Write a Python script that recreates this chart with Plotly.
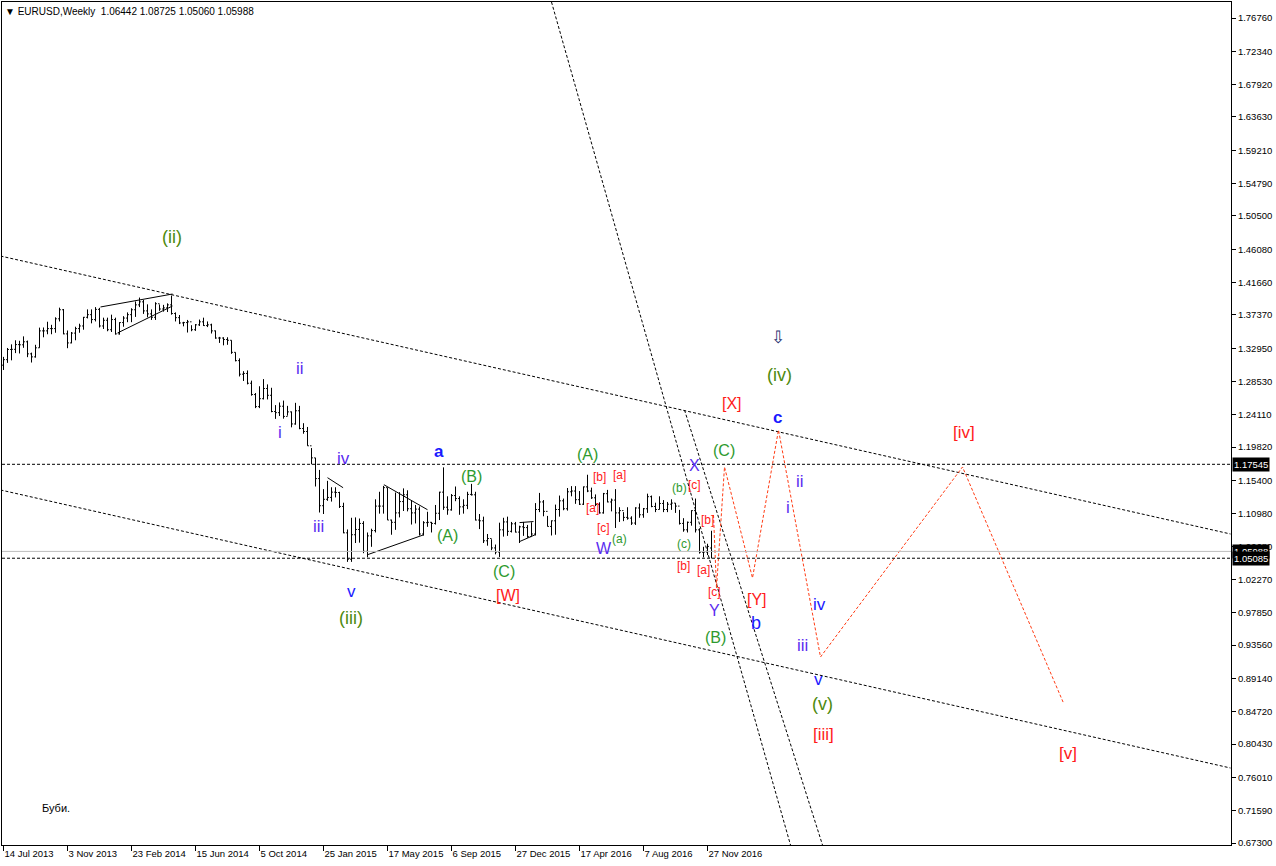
import plotly.graph_objects as go

# ---------------- weekly EURUSD bars (index 0 = week of 14 Jul 2013) ----------------
opens_2013 = [1.3070, 1.3143, 1.3278, 1.3280, 1.3343, 1.3340, 1.3380, 1.3220, 1.3180, 1.3300,
              1.3525, 1.3525, 1.3555, 1.3555, 1.3685, 1.3805, 1.3485, 1.3365, 1.3495, 1.3555,
              1.3590, 1.3705, 1.3740, 1.3675, 1.3810]
highs_2013 = [1.3180, 1.3298, 1.3346, 1.3400, 1.3393, 1.3452, 1.3396, 1.3236, 1.3340, 1.3568,
              1.3570, 1.3646, 1.3605, 1.3705, 1.3833, 1.3815, 1.3530, 1.3510, 1.3580, 1.3620,
              1.3710, 1.3810, 1.3810, 1.3840, 1.3830]
lows_2013 = [1.3006, 1.3100, 1.3134, 1.3230, 1.3225, 1.3300, 1.3176, 1.3105, 1.3170, 1.3300,
             1.3440, 1.3480, 1.3480, 1.3500, 1.3650, 1.3480, 1.3295, 1.3360, 1.3400, 1.3500,
             1.3540, 1.3690, 1.3625, 1.3650, 1.3570]
closes_2013 = [1.3143, 1.3278, 1.3280, 1.3343, 1.3340, 1.3380, 1.3220, 1.3180, 1.3300, 1.3525,
               1.3525, 1.3555, 1.3555, 1.3685, 1.3805, 1.3485, 1.3365, 1.3495, 1.3555, 1.3590,
               1.3705, 1.3740, 1.3675, 1.3810, 1.3590]

opens_2014 = [1.3590, 1.3665, 1.3540, 1.3675, 1.3485, 1.3635, 1.3695, 1.3740, 1.3805, 1.3870,
              1.3910, 1.3790, 1.3750, 1.3705, 1.3885, 1.3815, 1.3830, 1.3870, 1.3755, 1.3700,
              1.3630, 1.3635, 1.3645, 1.3540, 1.3605, 1.3645, 1.3595, 1.3605, 1.3525, 1.3430,
              1.3430, 1.3410, 1.3400, 1.3240, 1.3130, 1.2950, 1.2960, 1.2830, 1.2680, 1.2520,
              1.2625, 1.2760, 1.2670, 1.2455, 1.2440, 1.2525, 1.2390, 1.2450, 1.2290, 1.2465,
              1.2230, 1.2190]
highs_2014 = [1.3700, 1.3700, 1.3740, 1.3700, 1.3640, 1.3720, 1.3770, 1.3825, 1.3915, 1.3967,
              1.3935, 1.3877, 1.3810, 1.3905, 1.3875, 1.3870, 1.3890, 1.3993, 1.3770, 1.3735,
              1.3645, 1.3670, 1.3600, 1.3615, 1.3675, 1.3700, 1.3650, 1.3620, 1.3530, 1.3445,
              1.3440, 1.3440, 1.3400, 1.3240, 1.3160, 1.2990, 1.3000, 1.2865, 1.2700, 1.2790,
              1.2885, 1.2815, 1.2770, 1.2540, 1.2575, 1.2600, 1.2530, 1.2455, 1.2570, 1.2530,
              1.2300, 1.2250]
lows_2014 = [1.3550, 1.3520, 1.3510, 1.3475, 1.3475, 1.3580, 1.3640, 1.3640, 1.3710, 1.3840,
             1.3750, 1.3705, 1.3670, 1.3670, 1.3790, 1.3780, 1.3775, 1.3740, 1.3650, 1.3615,
             1.3585, 1.3503, 1.3520, 1.3525, 1.3590, 1.3590, 1.3575, 1.3490, 1.3420, 1.3365,
             1.3333, 1.3340, 1.3220, 1.3120, 1.2920, 1.2860, 1.2815, 1.2665, 1.2500, 1.2500,
             1.2615, 1.2615, 1.2445, 1.2357, 1.2395, 1.2360, 1.2400, 1.2245, 1.2280, 1.2220,
             1.2160, 1.2000]
closes_2014 = [1.3665, 1.3540, 1.3675, 1.3485, 1.3635, 1.3695, 1.3740, 1.3805, 1.3870, 1.3910,
               1.3790, 1.3750, 1.3705, 1.3885, 1.3815, 1.3830, 1.3870, 1.3755, 1.3700, 1.3630,
               1.3635, 1.3645, 1.3540, 1.3605, 1.3645, 1.3595, 1.3605, 1.3525, 1.3430, 1.3430,
               1.3410, 1.3400, 1.3240, 1.3130, 1.2950, 1.2960, 1.2830, 1.2680, 1.2520, 1.2625,
               1.2760, 1.2670, 1.2455, 1.2440, 1.2525, 1.2390, 1.2450, 1.2290, 1.2465, 1.2230,
               1.2190, 1.2000]

opens_2015 = [1.2000, 1.1840, 1.1565, 1.1205, 1.1290, 1.1315, 1.1385, 1.1380, 1.1195, 1.0845,
              1.0495, 1.0820, 1.0890, 1.0970, 1.0600, 1.0805, 1.0875, 1.1200, 1.1200, 1.1445,
              1.1015, 1.0985, 1.1110, 1.1260, 1.1350, 1.1165, 1.1110, 1.1160, 1.0830, 1.0980,
              1.0985, 1.0970, 1.1105, 1.1385, 1.1185, 1.1150, 1.1340, 1.1300, 1.1190, 1.1210,
              1.1355, 1.1350, 1.1015, 1.1005, 1.0740, 1.0770, 1.0645, 1.0590, 1.0885, 1.0990,
              1.0865, 1.0965]
highs_2015 = [1.1970, 1.1840, 1.1680, 1.1425, 1.1535, 1.1450, 1.1450, 1.1390, 1.1245, 1.0890,
              1.1045, 1.1050, 1.1035, 1.1000, 1.0850, 1.0900, 1.1290, 1.1390, 1.1468, 1.1445,
              1.1020, 1.1380, 1.1385, 1.1435, 1.1410, 1.1280, 1.1215, 1.1195, 1.1000, 1.1125,
              1.0990, 1.1215, 1.1390, 1.1714, 1.1330, 1.1360, 1.1460, 1.1330, 1.1290, 1.1390,
              1.1495, 1.1390, 1.1095, 1.1060, 1.0830, 1.0760, 1.0690, 1.0980, 1.1045, 1.1060,
              1.0990, 1.0990]
lows_2015 = [1.1755, 1.1460, 1.1115, 1.1095, 1.1270, 1.1260, 1.1315, 1.1175, 1.0840, 1.0460,
             1.0460, 1.0710, 1.0715, 1.0575, 1.0520, 1.0660, 1.0850, 1.1100, 1.1100, 1.1015,
             1.0820, 1.0885, 1.1050, 1.1135, 1.1130, 1.0955, 1.0970, 1.0810, 1.0810, 1.0925,
             1.0850, 1.0955, 1.1015, 1.1150, 1.1085, 1.1140, 1.1265, 1.1085, 1.1100, 1.1160,
             1.1340, 1.1010, 1.0895, 1.0710, 1.0675, 1.0615, 1.0560, 1.0525, 1.0795, 1.0805,
             1.0850, 1.0850]
closes_2015 = [1.1840, 1.1565, 1.1205, 1.1290, 1.1315, 1.1385, 1.1380, 1.1195, 1.0845, 1.0495,
               1.0820, 1.0890, 1.0970, 1.0600, 1.0805, 1.0875, 1.1200, 1.1200, 1.1445, 1.1015,
               1.0985, 1.1110, 1.1260, 1.1350, 1.1165, 1.1110, 1.1160, 1.0830, 1.0980, 1.0985,
               1.0970, 1.1105, 1.1385, 1.1185, 1.1150, 1.1340, 1.1300, 1.1190, 1.1210, 1.1355,
               1.1350, 1.1015, 1.1005, 1.0740, 1.0770, 1.0645, 1.0590, 1.0885, 1.0990, 1.0865,
               1.0965, 1.0855]

opens_2016 = [1.0855, 1.0925, 1.0915, 1.0795, 1.0830, 1.1155, 1.1255, 1.1130, 1.0930, 1.1005,
              1.1155, 1.1270, 1.1165, 1.1390, 1.1400, 1.1285, 1.1225, 1.1455, 1.1400, 1.1310,
              1.1220, 1.1110, 1.1365, 1.1255, 1.1280, 1.1110, 1.1140, 1.1050, 1.1040, 1.0975,
              1.1175, 1.1085, 1.1165, 1.1325, 1.1195, 1.1155, 1.1235, 1.1155, 1.1225, 1.1240,
              1.1200, 1.0970, 1.0885, 1.0985, 1.1140, 1.0885, 1.0588, 1.0590, 1.06442]
highs_2016 = [1.0940, 1.0990, 1.0950, 1.0985, 1.1240, 1.1375, 1.1280, 1.1070, 1.1010, 1.1220,
              1.1340, 1.1300, 1.1440, 1.1465, 1.1465, 1.1400, 1.1460, 1.1616, 1.1445, 1.1355,
              1.1250, 1.1375, 1.1415, 1.1300, 1.1425, 1.1185, 1.1120, 1.1185, 1.1065, 1.1185,
              1.1235, 1.1175, 1.1365, 1.1340, 1.1245, 1.1330, 1.1280, 1.1255, 1.1290, 1.1240,
              1.1150, 1.1040, 1.0995, 1.1145, 1.1300, 1.0905, 1.0660, 1.0700, 1.08725]
lows_2016 = [1.0710, 1.0805, 1.0780, 1.0805, 1.0810, 1.1120, 1.1065, 1.0930, 1.0810, 1.0820,
             1.1060, 1.1145, 1.1140, 1.1330, 1.1230, 1.1215, 1.1215, 1.1385, 1.1295, 1.1200,
             1.1100, 1.1100, 1.1250, 1.1130, 1.0910, 1.0990, 1.1000, 1.1020, 1.0950, 1.0950,
             1.1045, 1.1045, 1.1110, 1.1185, 1.1120, 1.1155, 1.1120, 1.1120, 1.1150, 1.1110,
             1.0955, 1.0860, 1.0850, 1.0940, 1.0850, 1.0570, 1.0520, 1.0550, 1.05060]
closes_2016 = [1.0925, 1.0915, 1.0795, 1.0830, 1.1155, 1.1255, 1.1130, 1.0930, 1.1005, 1.1155,
               1.1270, 1.1165, 1.1390, 1.1400, 1.1285, 1.1225, 1.1455, 1.1400, 1.1310, 1.1220,
               1.1110, 1.1365, 1.1255, 1.1280, 1.1110, 1.1140, 1.1050, 1.1040, 1.0975, 1.1175,
               1.1085, 1.1165, 1.1325, 1.1195, 1.1155, 1.1235, 1.1155, 1.1225, 1.1240, 1.1200,
               1.0970, 1.0885, 1.0985, 1.1140, 1.0885, 1.0588, 1.0590, 1.0665, 1.05988]

# time-axis labels (every 16 weekly bars)
date_labels = ["14 Jul 2013", "3 Nov 2013", "23 Feb 2014", "15 Jun 2014", "5 Oct 2014",
               "25 Jan 2015", "17 May 2015", "6 Sep 2015", "27 Dec 2015", "17 Apr 2016",
               "7 Aug 2016", "27 Nov 2016"]
label_step = 16

# price-scale labels
price_ticks = [1.76760, 1.72340, 1.67920, 1.63630, 1.59210, 1.54790, 1.50500, 1.46080,
               1.41660, 1.37370, 1.32950, 1.28530, 1.24110, 1.19820, 1.15400, 1.10980,
               1.06680, 1.02270, 0.97850, 0.93560, 0.89140, 0.84720, 0.80430, 0.76010,
               0.71590, 0.67300]

# horizontal levels
level_upper = 1.17545
level_lower = 1.05085
bid_price = 1.05988

# trend lines: (bar index, price) endpoints
upper_channel = ([-0.75, 306.75], [1.4518, 1.0830])
lower_channel = ([-0.75, 306.75], [1.1414, 0.7725])
steep_line_a = ([137.0, 196.75], [1.7888, 0.67035])
steep_line_b = ([170.25, 204.75], [1.2475, 0.67035])

# drawn wedge / triangle objects
wedge_top = ([24.25, 42.25], [1.3842, 1.4014])
wedge_bottom = ([28.5, 42.25], [1.3497, 1.3855])
tri_top = ([95.1, 106.0], [1.1484, 1.1152])
tri_bottom = ([91.0, 105.1], [1.0555, 1.0820])
small_tri = ([81.0, 84.9], [1.1577, 1.1444])
box_2016_top = ([129.0, 132.5], [1.0981, 1.0995])
box_2016_bottom = ([129.0, 133.0], [1.0729, 1.0822])

# forecast path (red dashed)
path_bar = [177.5, 178.25, 180.25, 187.25, 193.75, 204.25, 239.75, 265.0]
path_price = [1.1082, 1.0113, 1.1719, 1.0246, 1.2210, 0.9198, 1.1719, 0.8587]

# wave labels
OLIVE = "#4E8A0E"
GREEN = "#2E9A2E"
VIOLET = "#5A2CF0"
BLUE = "#1A1AFF"
RED = "#FF1A1A"
labels = [
    ("(ii)", 42.0, 1.4770, OLIVE, 18),
    ("ii", 74.0, 1.3032, VIOLET, 17),
    ("i", 69.0, 1.2183, VIOLET, 17),
    ("iv", 85.0, 1.1825, VIOLET, 17),
    ("iii", 78.75, 1.0936, VIOLET, 17),
    ("v", 87.0, 1.0073, BLUE, 17),
    ("(iii)", 86.75, 0.9715, OLIVE, 18),
    ("<b>a</b>", 108.75, 1.1931, BLUE, 17),
    ("(B)", 117.0, 1.1599, GREEN, 16),
    ("(A)", 111.0, 1.0816, GREEN, 16),
    ("(C)", 125.0, 1.0326, GREEN, 16),
    ("[W]", 126.0, 1.0020, RED, 16),
    ("(A)", 146.0, 1.1891, GREEN, 16),
    ("[b]", 149.0, 1.1586, RED, 12),
    ("[a]", 154.0, 1.1612, RED, 12),
    ("[a]", 147.25, 1.1175, RED, 12),
    ("[c]", 150.0, 1.0909, RED, 12),
    ("W", 150.0, 1.0644, VIOLET, 16),
    ("(a)", 154.0, 1.0763, GREEN, 12),
    ("X", 172.75, 1.1745, VIOLET, 16),
    ("(b)", 169.0, 1.1440, GREEN, 12),
    ("[c]", 172.75, 1.1480, RED, 12),
    ("(c)", 170.0, 1.0697, GREEN, 12),
    ("[b]", 176.0, 1.1015, RED, 12),
    ("[b]", 170.0, 1.0405, RED, 12),
    ("[a]", 175.0, 1.0352, RED, 12),
    ("[c]", 177.75, 1.0060, RED, 12),
    ("Y", 177.75, 0.9821, VIOLET, 16),
    ("(B)", 178.0, 0.9463, GREEN, 16),
    ("(C)", 180.0, 1.1944, GREEN, 16),
    ("[X]", 182.0, 1.2555, RED, 16),
    ("[Y]", 188.25, 0.9967, RED, 16),
    ("b", 188.0, 0.9649, BLUE, 18),
    ("<b>c</b>", 193.5, 1.2382, BLUE, 17),
    ("(iv)", 194.0, 1.2939, OLIVE, 18),
    ("\u21e9", 193.5, 1.3443, "#1F2F6F", 17),
    ("ii", 199.0, 1.1533, VIOLET, 17),
    ("i", 196.0, 1.1175, VIOLET, 17),
    ("iv", 204.0, 0.9888, BLUE, 17),
    ("iii", 199.75, 0.9344, VIOLET, 17),
    ("v", 203.75, 0.8893, BLUE, 17),
    ("(v)", 204.75, 0.8574, OLIVE, 18),
    ("[iii]", 205.0, 0.8176, RED, 17),
    ("[iv]", 240.0, 1.2170, RED, 17),
    ("[v]", 266.0, 0.7924, RED, 17),
]
note_text = ("Буби.", 13.0, 0.7194)

header = "\u25bc EURUSD,Weekly  1.06442 1.08725 1.05060 1.05988"

# ---------------- figure ----------------
opens = opens_2013 + opens_2014 + opens_2015 + opens_2016
highs = highs_2013 + highs_2014 + highs_2015 + highs_2016
lows = lows_2013 + lows_2014 + lows_2015 + lows_2016
closes = closes_2013 + closes_2014 + closes_2015 + closes_2016
bars = list(range(len(closes)))

FONT = "Liberation Sans, Arial, sans-serif"
fig = go.Figure()

fig.add_trace(go.Ohlc(
    x=bars, open=opens, high=highs, low=lows, close=closes,
    increasing=dict(line=dict(color="black", width=1)),
    decreasing=dict(line=dict(color="black", width=1)),
    tickwidth=0.35, hoverinfo="skip", showlegend=False,
))

def add_line(pts, color="black", dash="3px,2px", width=1):
    fig.add_trace(go.Scatter(x=pts[0], y=pts[1], mode="lines",
                             line=dict(color=color, width=width, dash=dash),
                             hoverinfo="skip", showlegend=False, cliponaxis=True))

for ln in (upper_channel, lower_channel, steep_line_a, steep_line_b):
    add_line(ln)
for ln in (wedge_top, wedge_bottom, tri_top, tri_bottom, small_tri,
           box_2016_top, box_2016_bottom):
    add_line(ln, dash="solid")

fig.add_trace(go.Scatter(x=path_bar, y=path_price, mode="lines",
                         line=dict(color="#FF3C14", width=1, dash="3px,2px"),
                         hoverinfo="skip", showlegend=False))

# horizontal levels
fig.add_hline(y=bid_price, line=dict(color="#BDBDBD", width=1))
fig.add_hline(y=level_upper, line=dict(color="black", width=1, dash="3px,2px"))
fig.add_hline(y=level_lower, line=dict(color="black", width=1, dash="3px,2px"))

annotations = []
for txt, bx, py, col, sz in labels:
    annotations.append(dict(x=bx, y=py, xref="x", yref="y", text=txt, showarrow=False,
                            font=dict(family=FONT, size=sz, color=col),
                            xanchor="center", yanchor="middle"))
annotations.append(dict(x=note_text[1], y=note_text[2], xref="x", yref="y",
                        text=note_text[0], showarrow=False,
                        font=dict(family=FONT, size=11, color="black"),
                        xanchor="center", yanchor="middle"))
annotations.append(dict(x=0, y=1, xref="paper", yref="paper", text=header, showarrow=False,
                        xanchor="left", yanchor="top", xshift=1, yshift=-2,
                        font=dict(family=FONT, size=10, color="black")))
for val in (bid_price, level_upper, level_lower):
    annotations.append(dict(x=1, y=val, xref="paper", yref="y", text=f"{val:.5f}",
                            showarrow=False, xanchor="left", yanchor="middle", xshift=1,
                            bgcolor="black", borderpad=1,
                            font=dict(family=FONT, size=9.5, color="white")))

fig.update_layout(
    width=1276, height=866,
    margin=dict(l=2, r=45, t=2, b=21),
    paper_bgcolor="white", plot_bgcolor="white",
    annotations=annotations,
    showlegend=False,
    xaxis=dict(range=[-0.375, 306.875], showgrid=False, zeroline=False,
               tickvals=[i * label_step for i in range(len(date_labels))],
               ticktext=date_labels, ticks="outside", ticklen=5, tickcolor="black",
               ticklabelposition="outside right",
               showline=True, linecolor="black", linewidth=1, mirror=True,
               rangeslider=dict(visible=False),
               tickfont=dict(family=FONT, size=9.5, color="black")),
    yaxis=dict(range=[0.67035, 1.78883], side="right", showgrid=False, zeroline=False,
               tickvals=price_ticks, ticktext=[f"{v:.5f}" for v in price_ticks],
               ticks="outside", ticklen=4, tickcolor="black",
               showline=True, linecolor="black", linewidth=1, mirror=True,
               tickfont=dict(family=FONT, size=9.5, color="black")),
)

fig.write_html("out.html",
               config={"displayModeBar": False, "staticPlot": True},
               post_script="document.body.style.margin='0';"
                           "document.body.style.overflow='hidden';"
                           "document.documentElement.style.overflow='hidden';")
